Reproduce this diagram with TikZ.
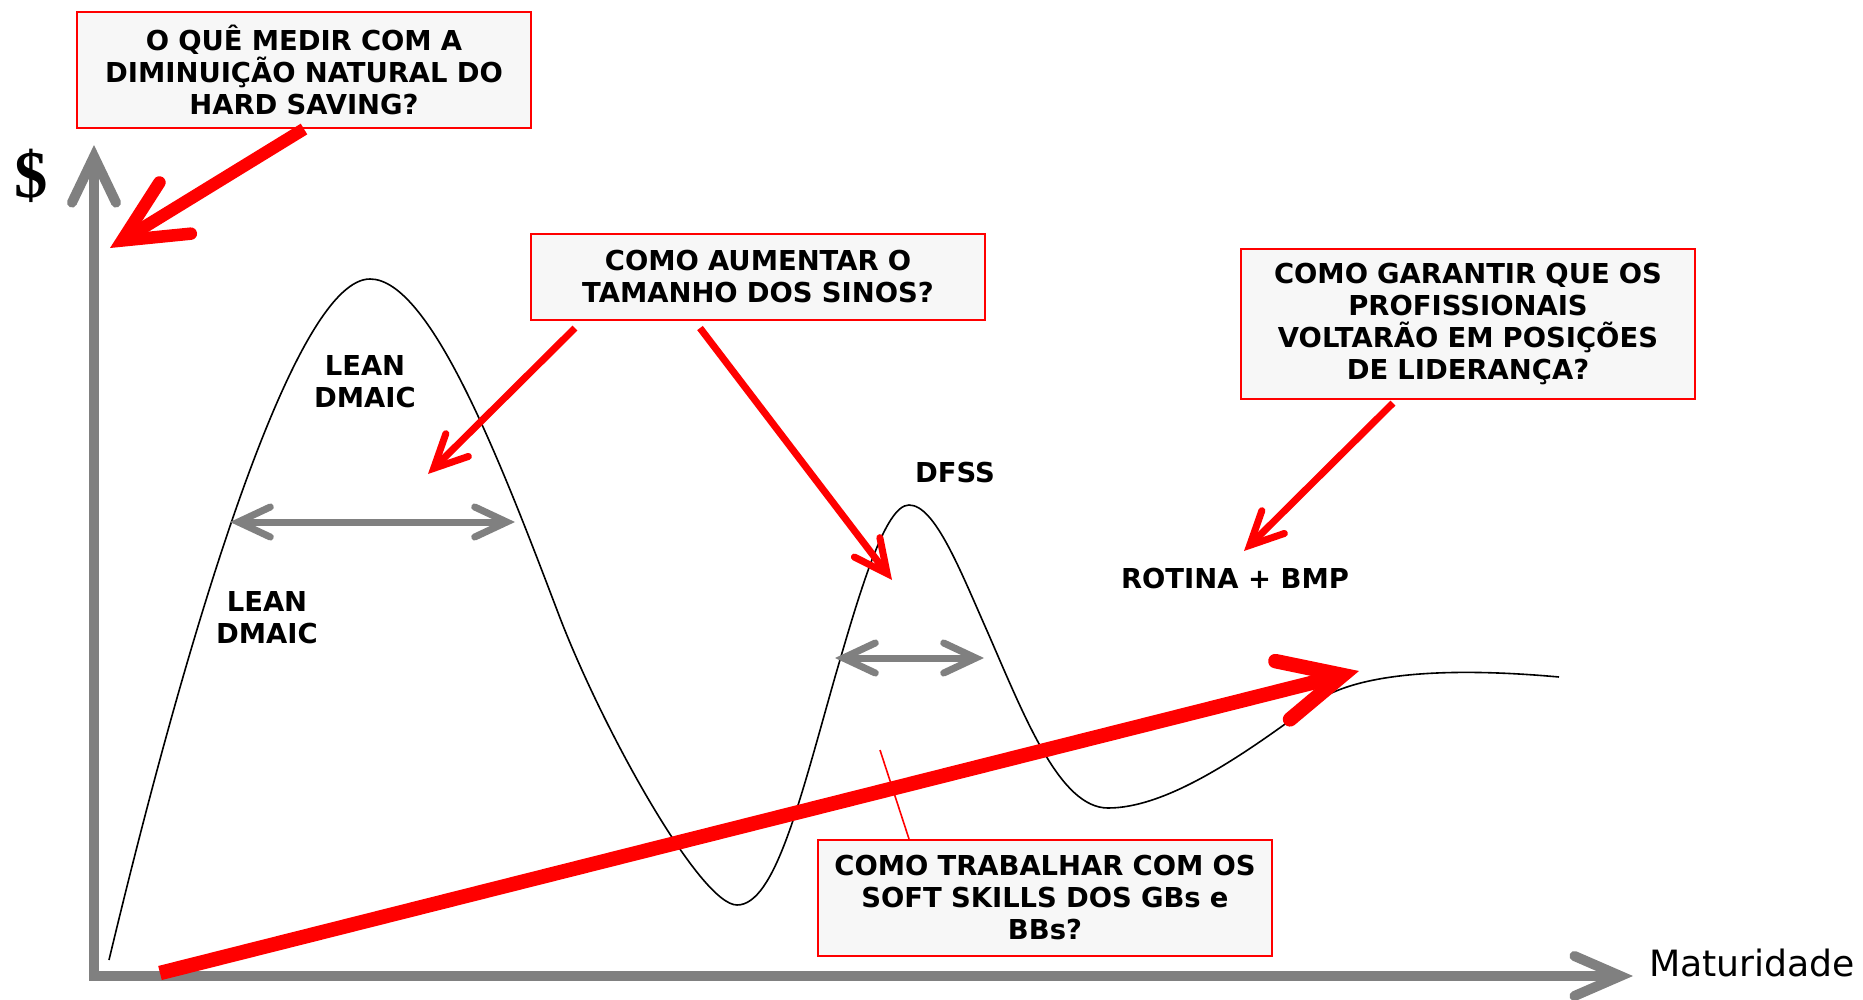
\documentclass[tikz,border=0pt]{standalone}
\usepackage{fontspec}
\setmainfont{DejaVu Sans}
\newfontfamily\dollarfont{Liberation Serif}
\usetikzlibrary{arrows.meta,positioning,calc}
\definecolor{boxfill}{RGB}{247,247,247}
\definecolor{axisgray}{RGB}{128,128,128}

\begin{document}
\begin{tikzpicture}[
    x=0.01cm, y=-0.01cm,
    question/.style={rectangle, draw=red, line width=0.02cm, fill=boxfill, minimum width=4.54cm, text width=4.4cm, align=center, inner sep=0pt, font=\fontsize{7.8}{9.1}\selectfont\bfseries},
    tag/.style={align=center, inner sep=0pt, font=\fontsize{7.8}{9.1}\selectfont\bfseries},
    axis/.style={draw=axisgray, line width=0.1cm, line join=miter, {Straight Barb[length=0.46cm, width=0.44cm, line cap=round]}-{Straight Barb[length=0.46cm, width=0.40cm, line cap=round]}},
    span/.style={draw=axisgray, line width=0.07cm, {Straight Barb[length=0.32cm, width=0.30cm, line cap=round]}-{Straight Barb[length=0.32cm, width=0.30cm, line cap=round]}},
    hint/.style={draw=red, line width=0.07cm, -{Straight Barb[length=0.33cm, width=0.32cm, line cap=round]}},
    bighint/.style={draw=red, line width=0.145cm, -{Straight Barb[length=0.62cm, width=0.60cm, line cap=round]}}
]
    \useasboundingbox (0,0) rectangle (1863,1000);

    \coordinate (ytop) at (94,145);
    \coordinate (origin) at (94,976);
    \coordinate (xend) at (1633,976);
    \draw[axis] (ytop) -- (origin) -- (xend);
    \node[font=\fontsize{10.3}{12}\selectfont] (xlabel) at (1752,963) {Maturidade};
    \node[font=\fontsize{19}{19}\dollarfont\bfseries\selectfont] (dollar) at (31,176) {\$};

    \draw[line width=0.016cm] (109,960) .. controls (200,580) and (300,279) .. (370,279)
        .. controls (430,279) and (500,460) .. (557,610)
        .. controls (600,725) and (700,905) .. (737,905)
        .. controls (775,905) and (800,800) .. (835,677)
        .. controls (860,591) and (885,505) .. (909,505)
        .. controls (935,505) and (960,570) .. (988,633)
        .. controls (1025,718) and (1060,808) .. (1108,808)
        .. controls (1170,808) and (1250,750) .. (1314,703)
        .. controls (1360,670) and (1460,668) .. (1559,677);

    \node[question, minimum height=1.16cm] (measure) at (304,70) {O QUÊ MEDIR COM A\\DIMINUIÇÃO NATURAL DO\\HARD SAVING?};
    \node[question, minimum height=0.86cm] (bells) at (758,277) {COMO AUMENTAR O\\TAMANHO DOS SINOS?};
    \node[question, minimum height=1.50cm] (leaders) at (1468,324) {COMO GARANTIR QUE OS\\PROFISSIONAIS\\VOLTARÃO EM POSIÇÕES\\DE LIDERANÇA?};
    \node[question, minimum height=1.16cm] (skills) at (1045,898) {COMO TRABALHAR COM OS\\SOFT SKILLS DOS GBs e\\BBs?};

    \node[tag] (lean1) at (365,382) {LEAN\\DMAIC};
    \node[tag] (lean2) at (267,618) {LEAN\\DMAIC};
    \node[tag] (dfss) at (955,473) {DFSS};
    \node[tag] (rotina) at (1235,579) {ROTINA + BMP};

    \coordinate (leanl) at (230,522);
    \coordinate (leanr) at (515,522);
    \coordinate (dfssl) at (835,658);
    \coordinate (dfssr) at (984,658);
    \draw[span] (leanl) -- (leanr);
    \draw[span] (dfssl) -- (dfssr);

    \coordinate (corner) at (110,248);
    \coordinate (bell1) at (428,474);
    \coordinate (bell2) at (892,580);
    \coordinate (routine) at (1244,551);
    \coordinate (skillpt) at (880,750);
    \coordinate (growstart) at (160,973);
    \coordinate (growend) at (1359,671);

    \draw[bighint, line width=0.125cm] (measure.south) -- (corner);
    \draw[hint] ($(bells.south)+(-183,7)$) -- (bell1);
    \draw[hint] ($(bells.south)+(-58,7)$) -- (bell2);
    \draw[hint] ($(leaders.south)+(-75,3)$) -- (routine);
    \draw[red, line width=0.016cm] ($(skills.north)+(-136,0)$) -- (skillpt);
    \draw[bighint] (growstart) -- (growend);
\end{tikzpicture}
\end{document}
